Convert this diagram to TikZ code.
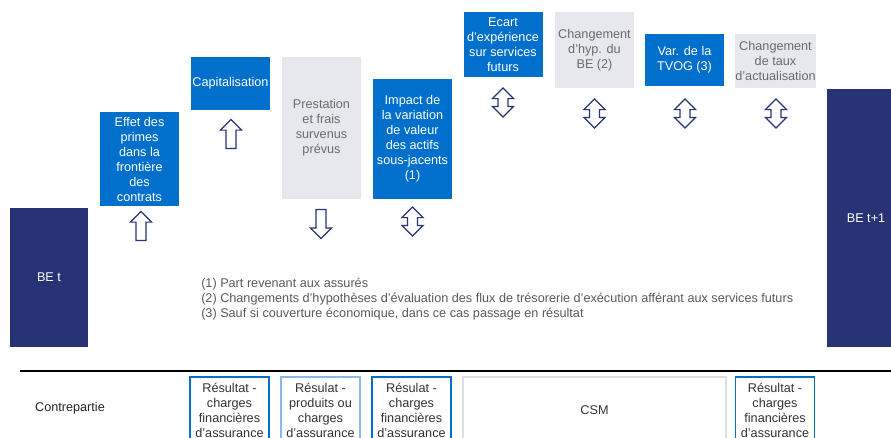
\documentclass[tikz,border=0pt]{standalone}
\usepackage{fontspec}
\setmainfont{Liberation Sans}
\usepackage{tikz}
\usetikzlibrary{shapes.arrows, positioning}

\definecolor{bleu}{HTML}{0070CC}
\definecolor{marine}{HTML}{283375}
\definecolor{grisclair}{HTML}{E7E8ED}
\definecolor{gristexte}{HTML}{6B6B6B}
\definecolor{bleupale}{HTML}{8DB7E6}
\definecolor{grisbord}{HTML}{DDDEE3}

\begin{document}
\begin{tikzpicture}[x=0.75pt, y=-0.75pt]
        % Define styles
        \tikzset{
            txt/.style={font=\fontsize{9.5pt}{11.25pt}\selectfont, align=center, inner sep=0pt},
            colbox/.style={txt, minimum width=59.25pt},
            bluebox/.style={colbox, fill=bleu, text=white},
            greybox/.style={colbox, fill=grisclair, text=gristexte},
            navybox/.style={colbox, minimum width=58.5pt, fill=marine, text=white},
            cpbox/.style={colbox, minimum height=49.5pt, line width=1.1pt, text=black!80},
            arr/.style={draw=marine, fill=white, line width=0.9pt, inner sep=3.3pt, minimum height=21.75pt},
            uparr/.style={arr, single arrow, single arrow head extend=4.2pt, rotate=90},
            downarr/.style={arr, single arrow, single arrow head extend=4.2pt, rotate=-90},
            bothways/.style={arr, double arrow, double arrow head extend=4.2pt, rotate=90}
        }
        \useasboundingbox (0,0) rectangle (891,437);
        \clip (0,0) rectangle (891,437);
        % Opening and closing BE
        \node[navybox, minimum height=104.25pt] (bet) at (49,277.5) {BE t};
        \node[navybox, minimum height=193.5pt] (betplus) at (866,218) {BE t+1};
        % Movements of the BE
        \node[bluebox, minimum height=70.5pt] (primes) at (139.5,159) {Effet des\\primes\\dans la\\frontière\\des\\contrats};
        \node[bluebox, minimum height=39.75pt] (capi) at (230.5,83.5) {Capitalisation};
        \node[greybox, minimum height=106.5pt] (prest) at (321.5,128) {Prestation\\et frais\\survenus\\prévus};
        \node[bluebox, minimum height=90pt] (actifs) at (412.5,139) {Impact de\\la variation\\de valeur\\des actifs\\sous-jacents\\(1)};
        \node[bluebox, minimum height=48.75pt] (ecart) at (503,44.5) {Ecart\\d'expérience\\sur services\\futurs};
        \node[greybox, minimum height=57pt] (hyp) at (594.5,50) {Changement\\d'hyp. du\\BE (2)};
        \node[bluebox, minimum height=39pt] (tvog) at (684.5,60) {Var. de la\\TVOG (3)};
        \node[greybox, minimum height=40.5pt] (taux) at (775.5,61) {Changement\\de taux\\d'actualisation};
        % Direction of each movement
        \node[uparr] (primesarr) at (141,228.5) {};
        \node[uparr] (capiarr) at (231,136.5) {};
        \node[downarr] (prestarr) at (321,221.5) {};
        \node[bothways] (actifsarr) at (412.5,221.5) {};
        \node[bothways] (ecartarr) at (503,102.5) {};
        \node[bothways] (hyparr) at (594.5,113.5) {};
        \node[bothways] (tvogarr) at (685,113.5) {};
        \node[bothways] (tauxarr) at (776,113.5) {};
        % Footnotes
        \node[txt, anchor=west, align=left, text=black!65] (notes) at (201,299) {(1) Part revenant aux assurés\\(2) Changements d'hypothèses d'évaluation des flux de trésorerie d'exécution afférant aux services futurs\\(3) Sauf si couverture économique, dans ce cas passage en résultat};
        % Separator and counterpart row
        \coordinate (sepleft) at (20,371);
        \coordinate (sepright) at (891,371);
        \draw[line width=1.5pt] (sepleft) -- (sepright);
        \node[txt, text=black!85] (contre) at (70,408) {Contrepartie};
        \node[cpbox, draw=bleu] (cpprimes) at (229.5,410) {Résultat -\\charges\\financières\\d'assurance};
        \node[cpbox, draw=bleupale] (cpprest) at (320.5,410) {Résulat -\\produits ou\\charges\\d'assurance};
        \node[cpbox, draw=bleu] (cpactifs) at (411.5,410) {Résulat -\\charges\\financières\\d'assurance};
        \node[cpbox, draw=grisbord, minimum width=197.25pt] (csm) at (594.5,410) {CSM};
        \node[cpbox, draw=bleu] (cptaux) at (775,410) {Résultat -\\charges\\financières\\d'assurance};
\end{tikzpicture}
\end{document}
